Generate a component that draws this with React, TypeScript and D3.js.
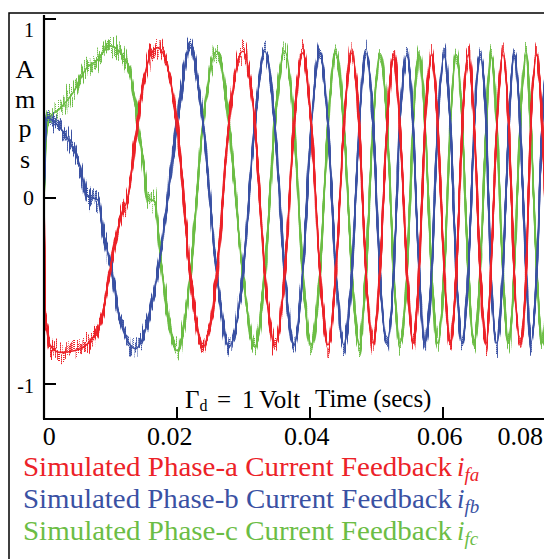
import React from "react";
import * as d3 from "d3";

// ---- data ----
// times (s) of successive 60-degree events of the three-phase chirp
const eventTimes = [
  0.0099, 0.0137, 0.0171, 0.02, 0.022, 0.0239, 0.026, 0.0278, 0.0299, 0.0317,
  0.0332, 0.0347, 0.0362, 0.0376, 0.0389, 0.0402, 0.0415, 0.0427, 0.0439, 0.0451,
  0.0463, 0.0474, 0.0484, 0.0495, 0.0505, 0.0516, 0.0526, 0.0535, 0.0546, 0.0555,
  0.0564, 0.0573, 0.0583, 0.0592, 0.0602, 0.0611, 0.062, 0.0629, 0.0638, 0.0647,
  0.0656, 0.0665, 0.0672, 0.0681, 0.069, 0.0699, 0.0707, 0.0716, 0.0725, 0.0732,
  0.0741, 0.0749, 0.0758,
];

// phase a (red): start-up readings, then values at events 2..52
const redLeadT = [0, 0.00015, 0.00045, 0.0009, 0.0024, 0.0047, 0.0069, 0.0084, 0.0092, 0.0099, 0.0108, 0.0117, 0.0126, 0.0132, 0.014, 0.0149, 0.0159];
const redLeadV = [0, -0.66, -0.72, -0.79, -0.83, -0.82, -0.77, -0.68, -0.55, -0.39, -0.23, -0.08, 0, 0.16, 0.4, 0.63, 0.79];
const redEventV = [
  0.84, 0.42, -0.42, -0.8, -0.41, 0.42, 0.82, 0.42, -0.41, -0.79,
  -0.41, 0.41, 0.81, 0.41, -0.4, -0.79, -0.4, 0.41, 0.81, 0.41,
  -0.4, -0.78, -0.4, 0.41, 0.8, 0.41, -0.4, -0.78, -0.4, 0.41,
  0.8, 0.41, -0.4, -0.78, -0.4, 0.41, 0.8, 0.41, -0.4, -0.78,
  -0.4, 0.41, 0.8, 0.41, -0.4, -0.78, -0.4, 0.41, 0.8, 0.41,
  -0.4,
];

// phase b (blue): start-up readings, then values at events 1..52
const blueLeadT = [0, 0.00015, 0.00045, 0.0017, 0.0039, 0.0054, 0.0065, 0.0081, 0.0089, 0.0095, 0.0102, 0.0114, 0.0126];
const blueLeadV = [0, 0.3, 0.45, 0.42, 0.31, 0.18, 0.01, -0.01, -0.18, -0.28, -0.4, -0.65, -0.77];
const blueEventV = [
  -0.81, -0.4, 0.42, 0.84, 0.42, -0.41, -0.8, -0.41, 0.42, 0.82,
  0.42, -0.41, -0.79, -0.4, 0.41, 0.81, 0.41, -0.4, -0.79, -0.4,
  0.41, 0.81, 0.41, -0.4, -0.78, -0.4, 0.41, 0.8, 0.41, -0.4,
  -0.78, -0.4, 0.41, 0.8, 0.41, -0.4, -0.78, -0.4, 0.41, 0.8,
  0.41, -0.4, -0.78, -0.4, 0.41, 0.8, 0.41, -0.4, -0.78, -0.4,
  0.41, 0.8,
];

// phase c (green): start-up readings, then values at events 3..52
const greenLeadT = [0, 0.00015, 0.0003, 0.0006, 0.0024, 0.0044, 0.0065, 0.008, 0.009, 0.0099, 0.0117, 0.0129, 0.014, 0.0149, 0.0156, 0.0167, 0.0174, 0.0183];
const greenLeadV = [0, 0.15, 0.36, 0.44, 0.5, 0.59, 0.73, 0.77, 0.82, 0.85, 0.8, 0.71, 0.45, 0.2, 0, -0.02, -0.28, -0.55];
const greenEventV = [
  -0.82, -0.42, 0.42, 0.82, 0.42, -0.41, -0.8, -0.41, 0.42, 0.82,
  0.41, -0.4, -0.79, -0.4, 0.41, 0.81, 0.41, -0.4, -0.79, -0.4,
  0.41, 0.8, 0.41, -0.4, -0.78, -0.4, 0.41, 0.8, 0.41, -0.4,
  -0.78, -0.4, 0.41, 0.8, 0.41, -0.4, -0.78, -0.4, 0.41, 0.8,
  0.41, -0.4, -0.78, -0.4, 0.41, 0.8, 0.41, -0.4, -0.78, -0.4,
];

const xTickValues = [0.02, 0.04, 0.06];
const xLabelTexts = ["0", "0.02", "0.04", "0.06", "0.08"];
const xLabelAt = [0.0008, 0.0189, 0.0395, 0.0595, 0.0716];
const yTickValues = [1, 0, -1];
const yLabelTexts = ["1", "0", "-1"];
const yAxisLetters = ["A", "m", "p", "s"];
const legendNames = [
  "Simulated Phase-a Current Feedback",
  "Simulated Phase-b Current Feedback",
  "Simulated Phase-c Current Feedback",
];
const legendSubs = ["fa", "fb", "fc"];

const RED = "#ec2228";
const BLUE = "#3a51a3";
const GREEN = "#6cbd45";
const colors = [RED, BLUE, GREEN];

function build(leadT: number[], leadV: number[], startEvent: number, ev: number[]): [number, number][] {
  const pts: [number, number][] = leadT.map((t, i) => [t, leadV[i]]);
  ev.forEach((v, i) => pts.push([eventTimes[startEvent + i], v]));
  return pts;
}

export default function App() {
  const W = 544;
  const H = 559;
  const x = d3.scaleLinear().domain([0, 0.08]).range([44, 576]);
  const y = d3.scaleLinear().domain([-1, 0, 1]).range([384, 198, 19]);
  const line = d3
    .line<[number, number]>()
    .x((d) => x(d[0]))
    .y((d) => y(d[1]))
    .curve(d3.curveMonotoneX);

  const series = [
    { pts: build(greenLeadT, greenLeadV, 3, greenEventV), c: GREEN, seed: 7 },
    { pts: build(blueLeadT, blueLeadV, 1, blueEventV), c: BLUE, seed: 11 },
    { pts: build(redLeadT, redLeadV, 2, redEventV), c: RED, seed: 3 },
  ];

  const serif = "'Liberation Serif', 'Times New Roman', serif";
  const x0 = x(0);
  const yTop = 15;
  const yBase = 419;

  return (
    <svg
      width={W}
      height={H}
      style={{ position: "absolute", left: 0, top: 0, background: "#fff" }}
      fontFamily={serif}
    >
      <defs>
        {series.map((s, i) => (
          <filter
            key={i}
            id={`jit${i}`}
            x="-0.02"
            y="-0.1"
            width="1.04"
            height="1.2"
            colorInterpolationFilters="sRGB"
          >
            <feTurbulence type="fractalNoise" baseFrequency="0.8 0.05" numOctaves={1} seed={s.seed} result="t" />
            <feColorMatrix
              in="t"
              type="matrix"
              values="0 0 0 0 0.5  0 1 0 0 0  0 0 0 0 0  0 0 0 0 1"
              result="m"
            />
            <feDisplacementMap in="SourceGraphic" in2="m" scale={40} xChannelSelector="R" yChannelSelector="G" result="d" />
            <feOffset in="d" dx={0} dy={-4} result="o1" />
            <feOffset in="d" dx={0} dy={-2} result="o2" />
            <feOffset in="d" dx={0} dy={2} result="o3" />
            <feOffset in="d" dx={0} dy={4} result="o4" />
            <feMerge>
              <feMergeNode in="o1" />
              <feMergeNode in="o2" />
              <feMergeNode in="d" />
              <feMergeNode in="o3" />
              <feMergeNode in="o4" />
              <feMergeNode in="SourceGraphic" />
            </feMerge>
          </filter>
        ))}
      </defs>
      <rect x={0} y={0} width={W} height={H} fill="#fff" />
      {/* outer frame */}
      <rect x={9} y={13} width={W + 20} height={H + 20} fill="none" stroke="#000" strokeWidth={1.5} />

      {/* series */}
      {series.map((s, i) => (
        <g key={i} filter={`url(#jit${i})`}>
          <path d={line(s.pts) || ""} fill="none" stroke={s.c} strokeWidth={1.6} strokeLinejoin="round" />
        </g>
      ))}

      {/* axes */}
      <line x1={x0} x2={x0} y1={yTop} y2={yBase} stroke="#000" strokeWidth={2.2} />
      <line x1={x0 - 1} x2={W + 5} y1={yBase} y2={yBase} stroke="#000" strokeWidth={2.2} />
      {yTickValues.map((v) => (
        <line key={v} x1={x0} x2={x0 + 12} y1={y(v)} y2={y(v)} stroke="#000" strokeWidth={2} />
      ))}
      {xTickValues.map((v) => (
        <line key={v} x1={x(v)} x2={x(v)} y1={yBase} y2={yBase - 12} stroke="#000" strokeWidth={2} />
      ))}

      {/* y tick labels */}
      {yLabelTexts.map((t, i) => (
        <text
          key={t}
          x={34}
          y={y(yTickValues[i]) + [18, 7, 9][i]}
          textAnchor="end"
          fontSize={i === 1 ? 22 : 20}
          fill="#000"
        >
          {t}
        </text>
      ))}
      {/* y axis title letters */}
      {yAxisLetters.map((l, i) => (
        <text key={l} x={25} y={[78, 108, 137, 168][i]} textAnchor="middle" fontSize={26} fill="#000">
          {l}
        </text>
      ))}

      {/* x tick labels */}
      {xLabelTexts.map((t, i) => (
        <text key={t} x={x(xLabelAt[i])} y={445} textAnchor="middle" fontSize={26} fill="#000">
          {t}
        </text>
      ))}

      {/* annotations */}
      <text x={185} y={408} fontSize={25} fill="#000">
        Γ<tspan fontSize={16} dy={3}>d</tspan>
        <tspan dy={-3} x={217}>=</tspan>
        <tspan x={242}>1</tspan>
        <tspan x={259}>Volt</tspan>
      </text>
      <text x={315} y={407} fontSize={25} fill="#000">
        Time (secs)
      </text>

      {/* legend */}
      {legendNames.map((n, i) => (
        <g key={n} fill={colors[i]}>
          <text x={23} y={476 + i * 32} fontSize={27} textLength={429} lengthAdjust="spacingAndGlyphs">
            {n}
          </text>
          <text x={457} y={476 + i * 32} fontSize={27} fontStyle="italic">
            i
            <tspan fontSize={19} dy={5}>
              {legendSubs[i]}
            </tspan>
          </text>
        </g>
      ))}
    </svg>
  );
}
